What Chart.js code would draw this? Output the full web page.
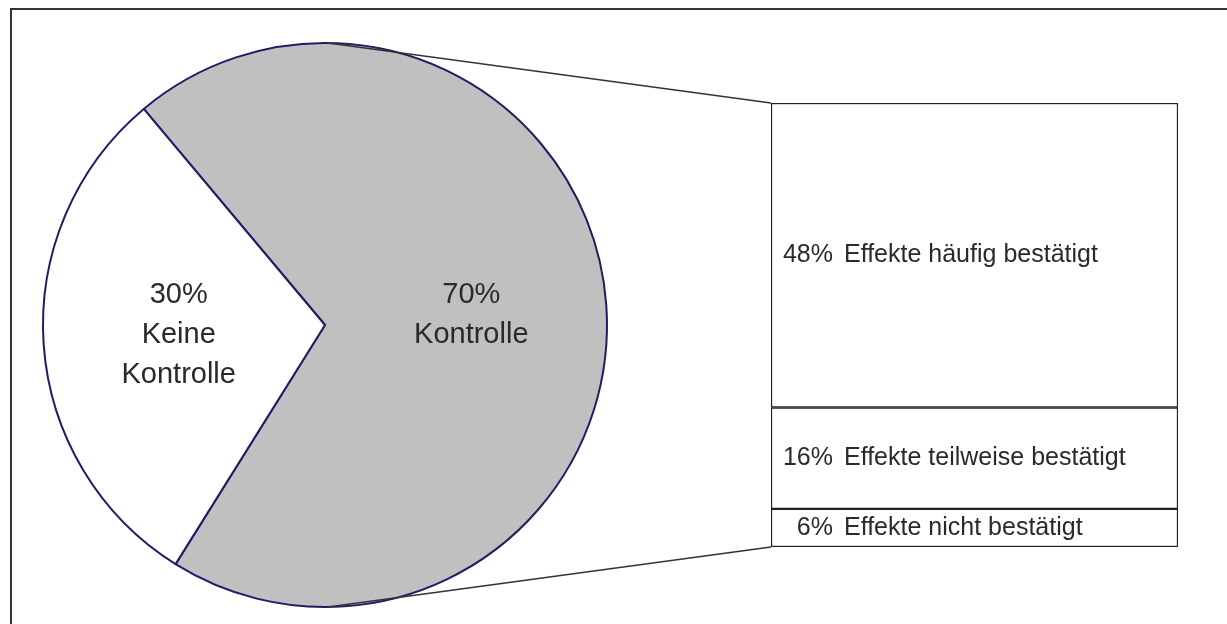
<!DOCTYPE html>
<html>
<head>
<meta charset="utf-8">
<script src="https://cdn.jsdelivr.net/npm/chart.js@4/dist/chart.umd.min.js"></script>
<style>
  html, body { margin: 0; padding: 0; background: #fff; overflow: hidden; }
  #wrap { position: relative; width: 1227px; height: 624px; }
  #frame { position: absolute; left: 10px; top: 8px; width: 1300px; height: 700px; border: 2px solid #333; box-sizing: border-box; }
  canvas { position: absolute; left: 0; top: 0; }
</style>
</head>
<body>
<div id="wrap">
  <div id="frame"></div>
  <canvas id="pieChart" width="1227" height="624"></canvas>
  <canvas id="barChart" width="1227" height="624"></canvas>
</div>
<script>
// Pie data
const pieLabels = ['Kontrolle', 'Keine Kontrolle'];
const pieValues = [70, 30];
const pieTextLines = [['Kontrolle'], ['Keine', 'Kontrolle']];

// Bar-of-pie data (split of "Kontrolle"), top to bottom
const barLabels = ['Effekte häufig bestätigt', 'Effekte teilweise bestätigt', 'Effekte nicht bestätigt'];
const barValues = [48, 16, 6];

const FONT = '"Liberation Sans", Arial, sans-serif';
const TEXT = '#2a2a2a';

// Labels inside the pie slices
const pieLabelPlugin = {
    id: 'pieLabels',
    afterDatasetsDraw(chart) {
        const ctx = chart.ctx;
        const meta = chart.getDatasetMeta(0);
        ctx.save();
        ctx.font = '29px ' + FONT;
        ctx.fillStyle = TEXT;
        ctx.textAlign = 'center';
        ctx.textBaseline = 'middle';
        meta.data.forEach((arc, i) => {
            const p = arc.getProps(['x', 'y', 'startAngle', 'endAngle', 'outerRadius'], true);
            const mid = (p.startAngle + p.endAngle) / 2;
            const r = p.outerRadius * 0.52;
            const cx = p.x + Math.cos(mid) * r;
            const cy = p.y + Math.sin(mid) * r;
            const lines = [pieValues[i] + '%'].concat(pieTextLines[i]);
            const lh = 40;
            const y0 = cy - (lines.length - 1) * lh / 2;
            lines.forEach((t, k) => ctx.fillText(t, cx, y0 + k * lh));
        });
        ctx.restore();
    }
};

const pieChart = new Chart(document.getElementById('pieChart'), {
    type: 'pie',
    data: {
        labels: pieLabels,
        datasets: [{
            data: pieValues,
            backgroundColor: ['#c0c0c0', '#ffffff'],
            borderColor: '#1e1e66',
            borderWidth: 2
        }]
    },
    options: {
        responsive: false,
        animation: false,
        rotation: -40,
        layout: { padding: { left: 41, top: 42, right: 618, bottom: 16 } },
        plugins: { legend: { display: false }, tooltip: { enabled: false } }
    },
    plugins: [pieLabelPlugin]
});

// Connector lines and segment labels for the stacked bar
const barLabelPlugin = {
    id: 'barLabels',
    afterDatasetsDraw(chart) {
        const ctx = chart.ctx;
        const area = chart.chartArea;
        const arc = pieChart.getDatasetMeta(0).data[0];
        ctx.save();
        ctx.strokeStyle = '#333';
        ctx.lineWidth = 1.5;
        ctx.beginPath();
        ctx.moveTo(arc.x + 3, arc.y - arc.outerRadius);
        ctx.lineTo(area.left, area.top);
        ctx.moveTo(arc.x + 3, arc.y + arc.outerRadius);
        ctx.lineTo(area.left, area.bottom);
        ctx.stroke();

        ctx.font = '25px ' + FONT;
        ctx.fillStyle = TEXT;
        ctx.textBaseline = 'middle';
        chart.data.datasets.forEach((ds, i) => {
            const bar = chart.getDatasetMeta(i).data[0];
            const cy = (bar.y + bar.base) / 2;
            ctx.textAlign = 'right';
            ctx.fillText(ds.data[0] + '%', area.left + 62, cy);
            ctx.textAlign = 'left';
            ctx.fillText(ds.label, area.left + 73, cy);
        });
        ctx.restore();
    }
};

// first dataset sits at the bottom of the stack
const barOrder = barValues.map((v, i) => i).reverse();

new Chart(document.getElementById('barChart'), {
    type: 'bar',
    data: {
        labels: [''],
        datasets: barOrder.map(i => ({
            label: barLabels[i],
            data: [barValues[i]],
            backgroundColor: '#ffffff',
            borderColor: '#222',
            borderWidth: 1.5,
            borderSkipped: false,
            categoryPercentage: 1,
            barPercentage: 1
        }))
    },
    options: {
        responsive: false,
        animation: false,
        layout: { padding: { left: 771, top: 103, right: 49, bottom: 77 } },
        scales: {
            x: { stacked: true, display: false },
            y: { stacked: true, display: false, min: 0, max: 70 }
        },
        plugins: { legend: { display: false }, tooltip: { enabled: false } }
    },
    plugins: [barLabelPlugin]
});
</script>
</body>
</html>
